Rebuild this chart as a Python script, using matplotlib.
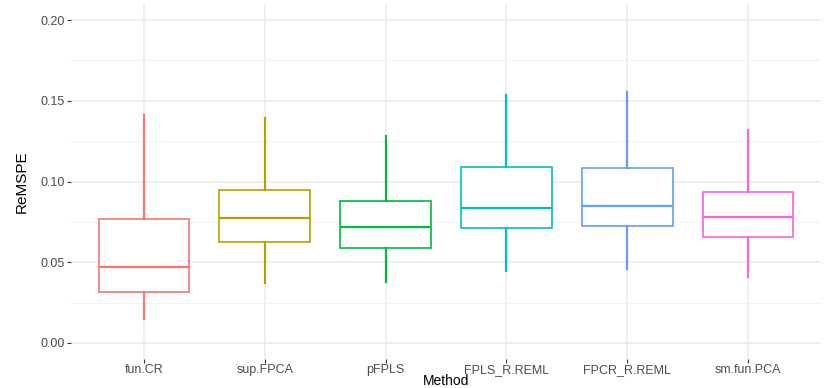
import matplotlib
matplotlib.use("Agg")
import matplotlib.pyplot as plt

# box statistics (whisker low, Q1, median, Q3, whisker high)
methods = ["fun.CR", "sup.FPCA", "pFPLS", "FPLS_R.REML", "FPCR_R.REML", "sm.fun.PCA"]
whislo = [0.0147, 0.0374, 0.0380, 0.0448, 0.0456, 0.0411]
q1 = [0.0318, 0.0623, 0.0586, 0.0714, 0.0722, 0.0656]
med = [0.0469, 0.0774, 0.0720, 0.0838, 0.0848, 0.0780]
q3 = [0.0768, 0.0945, 0.0877, 0.1092, 0.1081, 0.0935]
whishi = [0.1410, 0.1395, 0.1282, 0.1536, 0.1556, 0.1319]
colors = ["#F8766D", "#B79F00", "#00BA38", "#00BFC4", "#619CFF", "#F564E3"]

plt.rcParams["font.family"] = ["Liberation Sans", "DejaVu Sans"]

W, H = 830, 388
fig = plt.figure(figsize=(W / 100, H / 100), dpi=100)
left, right, top, bottom = 71.4, 820.6, 4, 359
ax = fig.add_axes([left / W, (H - bottom) / H, (right - left) / W, (bottom - top) / H])

stats = []
for i, m in enumerate(methods):
    stats.append(dict(label=m, whislo=whislo[i], q1=q1[i], med=med[i],
                      q3=q3[i], whishi=whishi[i], fliers=[]))

pos = list(range(1, len(methods) + 1))
bp = ax.bxp(stats, positions=pos, widths=0.75, showcaps=False, patch_artist=True,
            manage_ticks=False, zorder=3)
for i, c in enumerate(colors):
    bp["boxes"][i].set(facecolor="white", edgecolor=c, linewidth=1.2)
    bp["medians"][i].set(color=c, linewidth=1.6)
    for w in bp["whiskers"][2 * i:2 * i + 2]:
        w.set(color=c, linewidth=1.6)

ax.set_xlim(0.4, 6.6)
ax.set_ylim(-0.01, 0.21)
ax.set_xticks(pos)
ax.set_xticklabels(methods)
ax.set_yticks([0.0, 0.05, 0.10, 0.15, 0.20])
ax.set_yticklabels(["0.00", "0.05", "0.10", "0.15", "0.20"])
ax.set_yticks([0.025, 0.075, 0.125, 0.175], minor=True)

for s in ax.spines.values():
    s.set_visible(False)
ax.grid(True, which="major", color="#EBEBEB", linewidth=1.1, zorder=0)
ax.grid(True, which="minor", axis="y", color="#F2F2F2", linewidth=0.8, zorder=0)
ax.set_axisbelow(True)
ax.tick_params(axis="both", which="major", length=3, width=0.8, color="#333333",
               labelcolor="#4D4D4D", labelsize=9, pad=1.5)
ax.tick_params(axis="x", which="major", pad=0.5)
ax.tick_params(axis="y", which="minor", length=0)

ax.set_xlabel("Method", fontsize=10, labelpad=-1.5)
ax.set_ylabel("ReMSPE", fontsize=11, labelpad=9)

fig.savefig("out.png", dpi=100)
